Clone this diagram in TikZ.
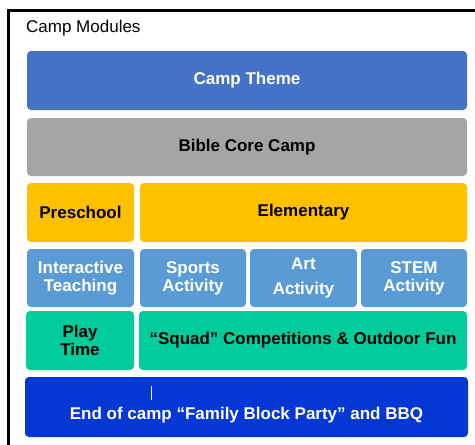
\documentclass[tikz,border=0pt]{standalone}
\usepackage{fontspec}
\setmainfont{Liberation Sans}
\definecolor{themeblue}{HTML}{4472C4}
\definecolor{coregray}{HTML}{A5A5A5}
\definecolor{agegold}{HTML}{FFC000}
\definecolor{actblue}{HTML}{5B9BD5}
\definecolor{playgreen}{HTML}{00CC9C}
\definecolor{partyblue}{HTML}{0437D3}
\tikzset{
  module/.style={rounded corners=4pt,inner sep=0pt,align=center,
    font=\fontsize{17}{18}\selectfont\bfseries},
}
\begin{document}
\begin{tikzpicture}[x=1pt,y=-1pt]
\useasboundingbox(0,0) rectangle (475,445);
\fill[white](0,0) rectangle (475,445);
\draw[line width=3pt](8.5,445)--(8.5,10.5)--(475,10.5);
\node[anchor=base west,inner sep=0pt,font=\fontsize{17}{18}\selectfont](title) at (26,32){Camp Modules};
% rows of modules
\node[module,fill=themeblue,text=white,minimum width=440,minimum height=59](theme) at (247,80.5){Camp Theme};
\node[module,fill=coregray,minimum width=440,minimum height=58](core) at (247,147){Bible Core Camp};
\node[module,fill=agegold,minimum width=107,minimum height=59](preschool) at (80.5,212.5){Preschool};
\node[module,fill=agegold,minimum width=327,minimum height=59](elementary) at (303.5,212.5){Elementary};
\node[module,fill=actblue,text=white,minimum width=107,minimum height=58](teaching) at (80.5,278){Interactive\\Teaching};
\node[module,fill=actblue,text=white,minimum width=106,minimum height=58](sports) at (193,278){Sports\\Activity};
\node[module,fill=actblue,text=white,minimum width=107,minimum height=58](art) at (303.5,278){Art\\[7pt]Activity};
\node[module,fill=actblue,text=white,minimum width=106,minimum height=58](stem) at (414,278){STEM\\Activity};
\node[module,fill=playgreen,minimum width=108,minimum height=59](play) at (80,340.5){Play\\Time};
\node[module,fill=playgreen,minimum width=328,minimum height=59](squad) at (303,340.5){``Squad'' Competitions \& Outdoor Fun};
\node[module,fill=partyblue,minimum width=443,minimum height=60](party) at (246.5,407){};
\node[module,text=white,anchor=base](partytext) at ([yshift=-12pt]party.center){End of camp ``Family Block Party'' and BBQ};
\draw[white,line width=0.8pt]([xshift=-95.5pt,yshift=-9pt]party.north)--([xshift=-95.5pt,yshift=-23pt]party.north);
\end{tikzpicture}
\end{document}
